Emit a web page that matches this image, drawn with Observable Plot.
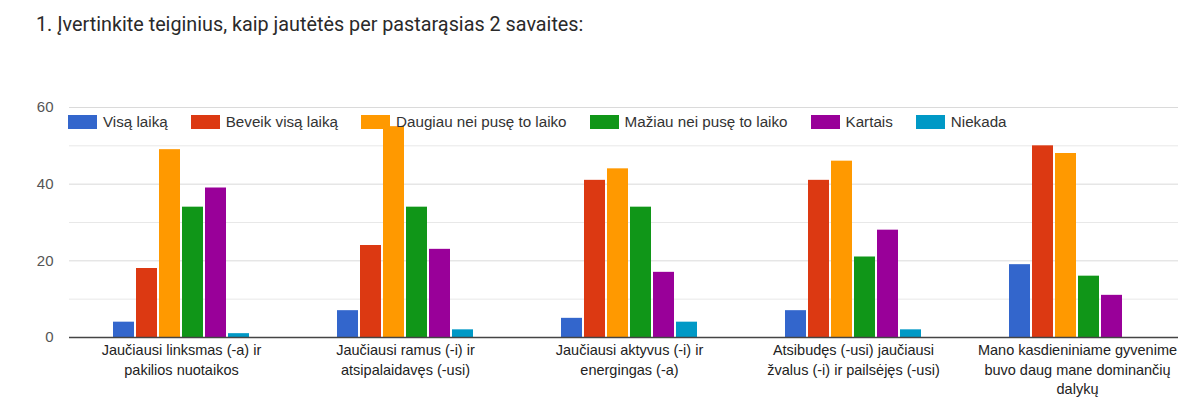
<!DOCTYPE html>
<html>
<head>
<meta charset="utf-8">
<script src="https://cdn.jsdelivr.net/npm/d3@7"></script>
<script src="https://cdn.jsdelivr.net/npm/@observablehq/plot@0.6"></script>
<style>
  html, body { margin: 0; padding: 0; background: #fff; overflow: hidden; }
  #wrap { position: relative; width: 1178px; height: 417px; overflow: hidden; background: #fff; }
  #title { position: absolute; left: 36px; top: 13px; font-family: Roboto, sans-serif; font-size: 19.8px; color: #2a2a2a; white-space: nowrap; }
  #chart { position: absolute; left: 0; top: 0; width: 1178px; }
  #legend { position: absolute; left: 68px; top: 113px; display: flex; align-items: center; font-family: Arial, "Liberation Sans", sans-serif; font-size: 15.2px; color: #333; white-space: nowrap; }
  .item { display: flex; align-items: center; margin-right: 23px; }
  .sw { width: 29px; height: 14px; margin-right: 6px; }
</style>
</head>
<body>
<div id="wrap">
  <div id="chart"></div>
  <div id="title"></div>
  <div id="legend"></div>
</div>
<script>
const titleText = "1. Įvertinkite teiginius, kaip jautėtės per pastarąsias 2 savaites:";
const categories = [
  "Jaučiausi linksmas (-a) ir\npakilios nuotaikos",
  "Jaučiausi ramus (-i) ir\natsipalaidavęs (-usi)",
  "Jaučiausi aktyvus (-i) ir\nenergingas (-a)",
  "Atsibudęs (-usi) jaučiausi\nžvalus (-i) ir pailsėjęs (-usi)",
  "Mano kasdieniniame gyvenime\nbuvo daug mane dominančių\ndalykų"
];
const series = ["Visą laiką", "Beveik visą laiką", "Daugiau nei pusę to laiko", "Mažiau nei pusę to laiko", "Kartais", "Niekada"];
const colors = ["#3366cc", "#dc3912", "#ff9900", "#109618", "#990099", "#0099c6"];
// values per series, one per category
const visaLaika       = [4, 7, 5, 7, 19];
const beveikVisaLaika = [18, 24, 41, 41, 50];
const daugiauNeiPuse  = [49, 55, 44, 46, 48];
const maziauNeiPuse   = [34, 34, 34, 21, 16];
const kartais         = [39, 23, 17, 28, 11];
const niekada         = [1, 2, 4, 2, 0];
const yTicks = [0, 20, 40, 60];
const yMinorTicks = [10, 30, 50];

const seriesValues = [visaLaika, beveikVisaLaika, daugiauNeiPuse, maziauNeiPuse, kartais, niekada];
const data = [];
categories.forEach((c, ci) => series.forEach((s, si) => data.push({cat: c, series: s, value: seriesValues[si][ci]})));

document.getElementById("title").textContent = titleText;

const chart = Plot.plot({
  width: 1178,
  height: 417,
  marginLeft: 68,
  marginRight: -11,
  marginTop: 107,
  marginBottom: 80,
  style: {fontFamily: "Arial, 'Liberation Sans', sans-serif", background: "transparent", overflow: "hidden", maxWidth: "none"},
  fx: {domain: categories, padding: 0, label: null, axis: null},
  x: {domain: series, paddingInner: 0.067, paddingOuter: 1.88, axis: null},
  y: {domain: [0, 60], axis: null},
  color: {domain: series, range: colors},
  marks: [
    Plot.gridY(yMinorTicks, {stroke: "#e8e8e8", strokeOpacity: 1}),
    Plot.gridY(yTicks.slice(1), {stroke: "#dadada", strokeOpacity: 1}),
    Plot.axisY({ticks: yTicks, tickSize: 0, tickPadding: 16, fontSize: 15, fill: "#555", label: null}),
    Plot.barY(data, {fx: "cat", x: "series", y: "value", fill: "series"}),
    Plot.ruleY([0], {stroke: "#444", strokeWidth: 1.5}),
    Plot.axisFx({anchor: "bottom", tickSize: 0, tickPadding: 4, fontSize: 14.5, lineHeight: 1.34, fill: "#222", label: null})
  ]
});
document.getElementById("chart").appendChild(chart);

const legend = document.getElementById("legend");
series.forEach((s, i) => {
  const it = document.createElement("div");
  it.className = "item";
  const sw = document.createElement("div");
  sw.className = "sw";
  sw.style.background = colors[i];
  const t = document.createElement("span");
  t.textContent = s;
  it.appendChild(sw);
  it.appendChild(t);
  legend.appendChild(it);
});
</script>
</body>
</html>
